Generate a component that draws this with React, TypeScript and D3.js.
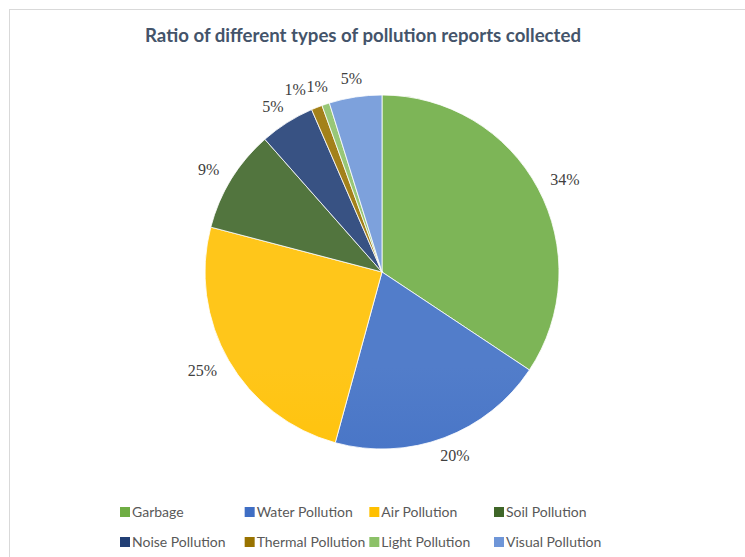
import React from "react";
import * as d3 from "d3";

const categories = [
  "Garbage",
  "Water Pollution",
  "Air Pollution",
  "Soil Pollution",
  "Noise Pollution",
  "Thermal Pollution",
  "Light Pollution",
  "Visual Pollution",
];
const values = [34.3, 19.9, 24.8, 9.4, 5.0, 1.0, 0.7, 4.8];
const colors = ["#6FAD44", "#3F6EC4", "#FFC000", "#3F6628", "#223F75", "#997300", "#8CC168", "#6F96D8"];
const title = "Ratio of different types of pollution reports collected";

const W = 745;
const H = 557;
const cx = 382;
const cy = 272;
const R = 177;

export default function App() {
  const total = d3.sum(values);
  const pie = d3
    .pie<number>()
    .sort(null)
    .value((d) => d)(values);
  const arc = d3.arc<d3.PieArcDatum<number>>().innerRadius(0).outerRadius(R);

  const legendX = d3.scalePoint<number>().domain([0, 1, 2, 3]).range([120, 494]);
  const legendY = [507, 537];

  const labels = pie.map((p) => {
    const pct = Math.round((p.value / total) * 100) + "%";
    const th = (p.startAngle + p.endAngle) / 2;
    const s = Math.sin(th);
    const c = Math.cos(th);
    const w = (pct.length - 1) * 8 + 13;
    const rr = R + 16;
    return {
      pct,
      w,
      x: s * rr + (s * w) / 2,
      y: -c * (rr + 3),
    };
  });
  for (let i = labels.length - 2; i >= 0; i--) {
    const a = labels[i];
    const b = labels[i + 1];
    const need = (a.w + b.w) / 2 + 1;
    if (Math.abs(a.y - b.y) < 14 && Math.abs(a.x - b.x) < need) {
      a.x = b.x - need;
    }
  }

  return (
    <svg
      width={W}
      height={H}
      viewBox={`0 0 ${W} ${H}`}
      style={{ position: "absolute", left: 0, top: 0, background: "#fff" }}
    >
      <defs>
        {colors.map((c, i) => {
          const top = d3.interpolateRgb(c, "#ffffff")(0.1);
          const bot = d3.interpolateRgb(c, "#000000")(0.1);
          return (
            <linearGradient
              key={i}
              id={`g${i}`}
              gradientUnits="userSpaceOnUse"
              x1={0}
              y1={cy - R}
              x2={0}
              y2={cy + R}
            >
              <stop offset="0" stopColor={top} />
              <stop offset="0.5" stopColor={c} />
              <stop offset="1" stopColor={bot} />
            </linearGradient>
          );
        })}
      </defs>
      <rect x={9.5} y={9.5} width={800} height={600} fill="#fff" stroke="#D9D9D9" strokeWidth={1} />
      <text
        x={363}
        y={42}
        textAnchor="middle"
        fontFamily="Lato, 'Open Sans', sans-serif"
        fontWeight={700}
        fontSize={19.5}
        fill="#44546A"
        textLength={436}
        lengthAdjust="spacingAndGlyphs"
      >
        {title}
      </text>
      <g transform={`translate(${cx},${cy})`}>
        {pie.map((p, i) => (
          <path key={i} d={arc(p) || ""} fill={`url(#g${i})`} stroke="#fff" strokeWidth={0.8} />
        ))}
        {labels.map((l, i) => (
          <text
            key={i}
            x={l.x}
            y={l.y}
            textAnchor="middle"
            dominantBaseline="central"
            fontFamily="'Liberation Serif', 'Times New Roman', serif"
            fontSize={16}
            fill="#404040"
          >
            {l.pct}
          </text>
        ))}
      </g>
      <g fontFamily="Lato, 'Open Sans', sans-serif" fontSize={14} fill="#595959">
        {categories.map((name, i) => {
          const col = i % 4;
          const row = Math.floor(i / 4);
          const x = legendX(col) as number;
          const y = legendY[row];
          return (
            <g key={i}>
              <rect x={x} y={y} width={10} height={10} fill={colors[i]} />
              <text x={x + 12} y={y + 9.5}>
                {name}
              </text>
            </g>
          );
        })}
      </g>
    </svg>
  );
}
